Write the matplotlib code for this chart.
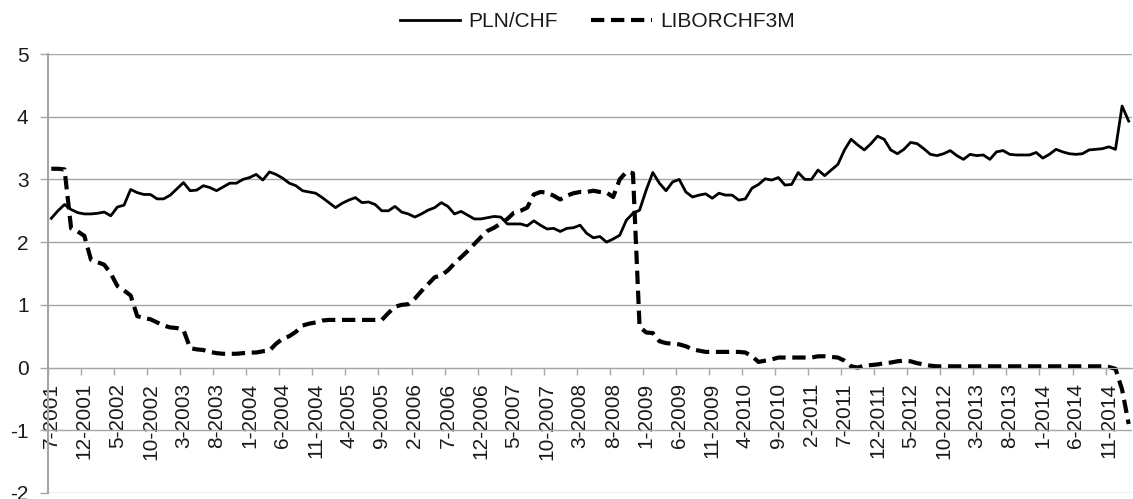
import matplotlib
matplotlib.use('Agg')
import matplotlib.pyplot as plt
import numpy as np

# monthly series, 7-2001 .. 2-2015 (164 months)
plnChf = [
    2.38, 2.50, 2.60, 2.52, 2.47, 2.45, 2.45, 2.46, 2.48, 2.42,
    2.56, 2.59, 2.84, 2.79, 2.76, 2.76, 2.69, 2.69, 2.75, 2.85,
    2.95, 2.82, 2.83, 2.90, 2.87, 2.82, 2.88, 2.94, 2.94, 3.00,
    3.03, 3.08, 2.99, 3.12, 3.08, 3.02, 2.94, 2.90, 2.82, 2.80,
    2.78, 2.71, 2.63, 2.55, 2.62, 2.67, 2.71, 2.63, 2.64, 2.60,
    2.50, 2.50, 2.57, 2.48, 2.45, 2.40, 2.45, 2.51, 2.55, 2.63,
    2.57, 2.45, 2.49, 2.43, 2.37, 2.37, 2.39, 2.41, 2.40, 2.29,
    2.29, 2.29, 2.26, 2.34, 2.27, 2.21, 2.22, 2.17, 2.22, 2.23,
    2.27, 2.14, 2.07, 2.09, 2.00, 2.05, 2.11, 2.35, 2.46, 2.51,
    2.83, 3.11, 2.94, 2.82, 2.96, 3.00, 2.80, 2.72, 2.75, 2.77,
    2.70, 2.78, 2.75, 2.75, 2.67, 2.69, 2.86, 2.92, 3.01, 2.99,
    3.03, 2.91, 2.92, 3.11, 3.00, 3.00, 3.15, 3.06, 3.15, 3.24,
    3.47, 3.64, 3.55, 3.47, 3.57, 3.69, 3.64, 3.47, 3.41, 3.48,
    3.59, 3.57, 3.49, 3.40, 3.38, 3.41, 3.46, 3.38, 3.32, 3.40,
    3.38, 3.39, 3.32, 3.44, 3.46, 3.40, 3.39, 3.39, 3.39, 3.43,
    3.34, 3.40, 3.48, 3.44, 3.41, 3.40, 3.41, 3.47, 3.48, 3.49,
    3.52, 3.48, 4.17, 3.93,
]

liborChf3m = [
    3.17, 3.17, 3.16, 2.22, 2.17, 2.10, 1.72, 1.68, 1.64, 1.50,
    1.30, 1.23, 1.15, 0.82, 0.79, 0.77, 0.72, 0.67, 0.64, 0.63,
    0.60, 0.31, 0.29, 0.28, 0.25, 0.23, 0.22, 0.22, 0.22, 0.23,
    0.24, 0.24, 0.26, 0.27, 0.38, 0.46, 0.50, 0.57, 0.67, 0.70,
    0.72, 0.75, 0.76, 0.76, 0.76, 0.76, 0.76, 0.76, 0.76, 0.76,
    0.76, 0.87, 0.97, 1.00, 1.01, 1.10, 1.22, 1.33, 1.44, 1.47,
    1.55, 1.66, 1.76, 1.86, 1.97, 2.08, 2.18, 2.23, 2.30, 2.37,
    2.47, 2.50, 2.55, 2.76, 2.80, 2.79, 2.74, 2.68, 2.74, 2.78,
    2.80, 2.80, 2.82, 2.80, 2.79, 2.72, 3.00, 3.12, 3.10, 0.65,
    0.56, 0.55, 0.42, 0.39, 0.38, 0.37, 0.34, 0.29, 0.27, 0.25,
    0.25, 0.25, 0.25, 0.25, 0.25, 0.24, 0.18, 0.09, 0.11, 0.13,
    0.16, 0.16, 0.16, 0.16, 0.16, 0.16, 0.18, 0.18, 0.17, 0.16,
    0.11, 0.02, 0.00, 0.03, 0.04, 0.05, 0.07, 0.08, 0.10, 0.11,
    0.10, 0.07, 0.05, 0.03, 0.02, 0.02, 0.02, 0.02, 0.02, 0.02,
    0.02, 0.02, 0.02, 0.02, 0.02, 0.02, 0.02, 0.02, 0.02, 0.02,
    0.02, 0.02, 0.02, 0.02, 0.02, 0.02, 0.02, 0.02, 0.02, 0.02,
    0.01, -0.02, -0.35, -0.90,
]

# every 5th month gets a label
tickLabels = [
    '7-2001', '12-2001', '5-2002', '10-2002', '3-2003', '8-2003', '1-2004',
    '6-2004', '11-2004', '4-2005', '9-2005', '2-2006', '7-2006', '12-2006',
    '5-2007', '10-2007', '3-2008', '8-2008', '1-2009', '6-2009', '11-2009',
    '4-2010', '9-2010', '2-2011', '7-2011', '12-2011', '5-2012', '10-2012',
    '3-2013', '8-2013', '1-2014', '6-2014', '11-2014',
]
labelStep = 5

seriesNames = ['PLN/CHF', 'LIBORCHF3M']

plt.rcParams['font.family'] = ['Liberation Sans', 'DejaVu Sans']
plt.rcParams['axes.unicode_minus'] = False  # plain hyphen like the original
gridColor = '#a6a6a6'
textColor = '#1a1a1a'


def drawChart():
    fig = plt.figure(figsize=(11.33, 4.99), dpi=100)
    ax = fig.add_axes([48 / 1133, 1 - 493 / 499, 1084 / 1133, 439 / 499])

    x = np.arange(len(plnChf))
    ax.plot(x, plnChf, color='black', linewidth=2.0,
            solid_joinstyle='round', label=seriesNames[0])
    ax.plot(x, liborChf3m, color='black', linewidth=3.0,
            linestyle=(0, (3.2, 1.6)), label=seriesNames[1])

    ax.set_xlim(-0.5, len(plnChf) - 0.5)
    ax.set_ylim(-2, 5)
    ax.set_yticks(range(-2, 6))
    ax.yaxis.grid(True, color=gridColor, linewidth=1.0)
    ax.set_axisbelow(True)

    # category axis crossing at zero, ticks between categories
    ax.spines['bottom'].set_position(('data', 0))
    ax.spines['bottom'].set_color(gridColor)
    ax.spines['left'].set_color(gridColor)
    ax.spines['left'].set_linewidth(1.5)
    ax.spines['top'].set_visible(False)
    ax.spines['right'].set_visible(False)

    labelPos = np.arange(len(tickLabels)) * labelStep
    ax.set_xticks(labelPos - 0.5)
    ax.set_xticklabels([])
    ax.set_xticks(labelPos, minor=True)
    ax.set_xticklabels(tickLabels, minor=True, rotation=90,
                       fontsize=15, color=textColor, va='top', ha='center')
    ax.tick_params(axis='x', which='major', direction='out', length=5,
                   color=gridColor, width=1)
    ax.tick_params(axis='x', which='minor', length=0, pad=11)
    ax.tick_params(axis='y', direction='out', length=6, color=gridColor,
                   width=1, labelsize=15, labelcolor=textColor, pad=8)

    fig.legend(loc='center', bbox_to_anchor=(0.527, 0.956), ncol=2,
               frameon=False, fontsize=15, handlelength=2.9,
               handletextpad=0.4, columnspacing=1.6, labelcolor=textColor)

    fig.savefig('out.png', dpi=100)
    plt.close(fig)


if __name__ == '__main__':
    drawChart()
